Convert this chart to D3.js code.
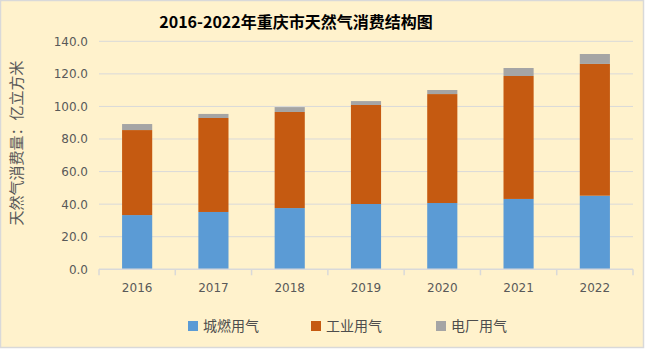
<!DOCTYPE html>
<html><head><meta charset="utf-8">
<script src="https://cdn.jsdelivr.net/npm/d3@7"></script>
<style>body{margin:0;background:#fff}svg{display:block}</style>
</head><body>
<script>
const categories = ["2016","2017","2018","2019","2020","2021","2022"];
const seriesNames = ["城燃用气","工业用气","电厂用气"];
const urban = [33.3, 35.2, 37.6, 40.1, 40.7, 43.2, 45.2];
const industrial = [52.2, 57.7, 59.0, 60.8, 66.9, 75.5, 80.9];
const power = [3.7, 2.5, 3.0, 2.4, 2.5, 4.9, 6.1];
const yTicks = [0, 20, 40, 60, 80, 100, 120, 140];
const colors = ["#5B9BD5", "#C55A11", "#A5A5A5"];

const W = 645, H = 349;
const svg = d3.select("body").append("svg").attr("width", W).attr("height", H);
svg.append("rect").attr("x",0.5).attr("y",0.5).attr("width",W-2).attr("height",H-2)
  .attr("fill","#FFF2CC").attr("stroke","#D9D9D9").attr("stroke-width",1.5);

const x = d3.scaleBand().domain(categories).range([99, 633]).paddingInner(0.605).paddingOuter(0.3025);
const y = d3.scaleLinear().domain([0, 140]).range([269.3, 41.3]);

const rows = categories.map((c, i) => ({cat: c, s0: urban[i], s1: industrial[i], s2: power[i]}));
const stacked = d3.stack().keys(["s0","s1","s2"])(rows);

// gridlines
svg.append("g").selectAll("line").data(yTicks.slice(1)).join("line")
  .attr("x1", 99).attr("x2", 633).attr("y1", d => y(d)).attr("y2", d => y(d))
  .attr("stroke", "#D9D9D9").attr("stroke-width", 1);

// bars
svg.append("g").selectAll("g").data(stacked).join("g").attr("fill", (d, i) => colors[i])
  .selectAll("rect").data(d => d).join("rect")
  .attr("x", d => x(d.data.cat)).attr("width", x.bandwidth())
  .attr("y", d => y(d[1])).attr("height", d => y(d[0]) - y(d[1]));

// x axis
const xb = svg.append("g");
xb.append("line").attr("x1", 99).attr("x2", 633).attr("y1", y(0)).attr("y2", y(0)).attr("stroke", "#D9D9D9").attr("stroke-width",1.5);
const bounds = d3.range(categories.length + 1).map(i => 99 + i * (534 / categories.length));
xb.selectAll("line.t").data(bounds).join("line").attr("class","t")
  .attr("x1", d => d).attr("x2", d => d).attr("y1", y(0)).attr("y2", y(0) + 6)
  .attr("stroke", "#D9D9D9").attr("stroke-width",1.5);
xb.selectAll("text").data(categories).join("text")
  .attr("x", d => x(d) + x.bandwidth() / 2).attr("y", 292)
  .attr("text-anchor", "middle").attr("font-family", "DejaVu Sans").attr("font-size", 12)
  .attr("fill", "#595959").text(d => d);

// y axis labels
const yAxis = d3.axisLeft(y).tickValues(yTicks).tickFormat(d3.format(".1f")).tickSize(0).tickPadding(10);
const ya = svg.append("g").attr("transform", "translate(98,0)").call(yAxis);
ya.select(".domain").remove();
ya.selectAll("text").attr("font-family", "DejaVu Sans").attr("font-size", 12).attr("fill", "#595959");

// y title
svg.append("text").attr("transform", "translate(22,143) rotate(-90)")
  .attr("text-anchor", "middle").attr("font-family", "Noto Sans CJK SC").attr("font-size", 15)
  .attr("fill", "#595959").text("天然气消费量：亿立方米");

// title
svg.append("text").attr("x", 296).attr("y", 28).attr("text-anchor", "middle")
  .attr("font-family", "Noto Sans CJK SC").attr("font-weight", "bold").attr("font-size", 16)
  .attr("fill", "#000").text("2016-2022年重庆市天然气消费结构图");

// legend
const legX = [188, 311, 436];
const lg = svg.append("g").selectAll("g").data(seriesNames).join("g")
  .attr("transform", (d, i) => `translate(${legX[i]},321)`);
lg.append("rect").attr("width", 10).attr("height", 10).attr("fill", (d, i) => colors[i]);
lg.append("text").attr("x", 15).attr("y", 10).attr("font-family", "Noto Sans CJK SC")
  .attr("font-size", 14).attr("fill", "#4d4d4d").text(d => d);
</script>
</body></html>
